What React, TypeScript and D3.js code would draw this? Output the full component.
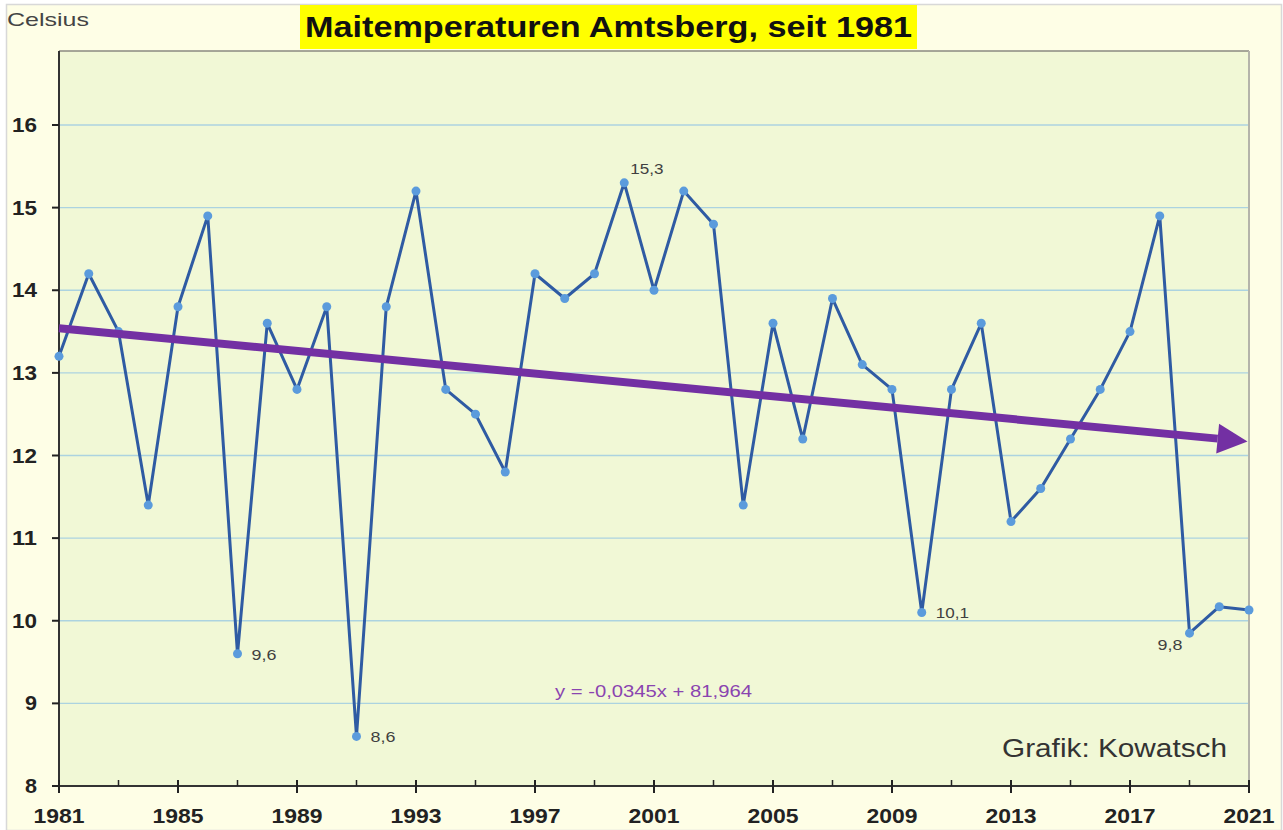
import React from 'react';
import * as d3 from 'd3';

const YEARS = d3.range(1981, 2022);
const TEMPS = [
  13.2, 14.2, 13.5, 11.4, 13.8, 14.9, 9.6, 13.6, 12.8, 13.8,
  8.6, 13.8, 15.2, 12.8, 12.5, 11.8, 14.2, 13.9, 14.2, 15.3,
  14.0, 15.2, 14.8, 11.4, 13.6, 12.2, 13.9, 13.1, 12.8, 10.1,
  12.8, 13.6, 11.2, 11.6, 12.2, 12.8, 13.5, 14.9, 9.85, 10.17,
  10.13
];
const Y_TICKS = [8, 9, 10, 11, 12, 13, 14, 15, 16];
const X_LABELS = [1981, 1985, 1989, 1993, 1997, 2001, 2005, 2009, 2013, 2017, 2021];
const MINOR_TICKS = [1983, 1987, 1991, 1995, 1999, 2003, 2007, 2011, 2015, 2019];
// annotated points: year, label, dx, dy
const ANNOTATIONS: [number, string, number, number][] = [
  [1987, '9,6', 14, 6],
  [1991, '8,6', 14, 6],
  [2000, '15,3', 6, -9],
  [2010, '10,1', 14, 6],
  [2019, '9,8', -32, 17],
];
// trend arrow as drawn (start, end)
const TREND = [{ year: 1981, v: 13.54 }, { year: 2020.95, v: 12.17 }];

const W = 1283;
const H = 830;
const L = 59, R = 1249, T = 51, B = 786;

export default function App() {
  const x = d3.scaleLinear().domain([1981, 2021]).range([L, R]);
  const y = d3.scaleLinear().domain([8, 16]).range([B, 125]);
  const line = d3.line<number>().x((_, i) => x(YEARS[i])).y(d => y(d));

  const x1 = x(TREND[0].year), y1 = y(TREND[0].v);
  const x2 = x(TREND[1].year), y2 = y(TREND[1].v);
  const ang = Math.atan2(y2 - y1, x2 - x1);
  const headLen = 30, headW = 15;
  const bx = x2 - headLen * Math.cos(ang), by = y2 - headLen * Math.sin(ang);
  const px = -Math.sin(ang), py = Math.cos(ang);

  return (
    <div style={{ position: 'absolute', left: 0, top: 0 }}>
      <svg width={W} height={H} style={{ display: 'block', fontFamily: 'Liberation Sans, Arial, sans-serif' }}>
        <rect x={0} y={0} width={W} height={H} fill="#ffffff" />
        <rect x={6.5} y={4.5} width={W - 8} height={H - 4} fill="#fefee6" stroke="#d8d8d8" strokeWidth={1.5} />
        <rect x={L} y={T} width={R - L} height={B - T} fill="#f1f8d6" />
        {Y_TICKS.filter(t => t > 8).map(t => (
          <line key={t} x1={L} x2={R} y1={y(t)} y2={y(t)} stroke="#acd3e0" strokeWidth={1.3} />
        ))}
        <line x1={L} x2={R} y1={T} y2={T} stroke="#8a8a80" strokeWidth={1.5} />
        <line x1={R} x2={R} y1={T} y2={B} stroke="#b4b4aa" strokeWidth={2} />
        <line x1={L} x2={L} y1={T} y2={B} stroke="#333" strokeWidth={2} />
        <line x1={L} x2={R} y1={B} y2={B} stroke="#333" strokeWidth={2} />
        {Y_TICKS.map(t => (
          <g key={t}>
            <line x1={52} x2={L} y1={y(t)} y2={y(t)} stroke="#222" strokeWidth={2} />
            <text x={37} y={y(t) + 7} textAnchor="end" fontSize={20} fontWeight="bold" fill="#222"
              textLength={t >= 10 ? 25 : 12} lengthAdjust="spacingAndGlyphs">{t}</text>
          </g>
        ))}
        {X_LABELS.map(t => (
          <g key={t}>
            <line x1={x(t)} x2={x(t)} y1={B - 6} y2={B + 7} stroke="#222" strokeWidth={2} />
            <text x={x(t) - 25.5} y={823} fontSize={20} fontWeight="bold" fill="#222"
              textLength={51} lengthAdjust="spacingAndGlyphs">{t}</text>
          </g>
        ))}
        {MINOR_TICKS.map(t => (
          <line key={t} x1={x(t)} x2={x(t)} y1={B - 6} y2={B} stroke="#222" strokeWidth={1.5} />
        ))}
        <path d={line(TEMPS) ?? ''} fill="none" stroke="#2f5ba3" strokeWidth={3} strokeLinejoin="round" />
        {TEMPS.map((v, i) => (
          <circle key={i} cx={x(YEARS[i])} cy={y(v)} r={4.5} fill="#5b9bdc" />
        ))}
        {ANNOTATIONS.map(([yr, label, dx, dy]) => (
          <text key={yr} x={x(yr) + dx} y={y(TEMPS[yr - 1981]) + dy} fontSize={15} fill="#404040"
            textLength={label.length * 8.3} lengthAdjust="spacingAndGlyphs">{label}</text>
        ))}
        <line x1={x1} y1={y1} x2={bx} y2={by} stroke="#7330a3" strokeWidth={8} />
        <polygon
          points={`${x2},${y2} ${bx + px * headW},${by + py * headW} ${bx - px * headW},${by - py * headW}`}
          fill="#7330a3"
        />
        <text x={555} y={697} fontSize={17} fill="#8a44b0" textLength={197} lengthAdjust="spacingAndGlyphs">y = -0,0345x + 81,964</text>
        <text x={1002} y={757} fontSize={26} fill="#333" textLength={225} lengthAdjust="spacingAndGlyphs">Grafik: Kowatsch</text>
        <text x={7} y={26} fontSize={19} fill="#444" textLength={82} lengthAdjust="spacingAndGlyphs">Celsius</text>
        <rect x={300} y={5} width={617} height={44} fill="#ffff00" />
        <text x={305} y={37} fontSize={29} fontWeight="bold" fill="#111" textLength={607} lengthAdjust="spacingAndGlyphs">Maitemperaturen Amtsberg, seit 1981</text>
      </svg>
    </div>
  );
}
